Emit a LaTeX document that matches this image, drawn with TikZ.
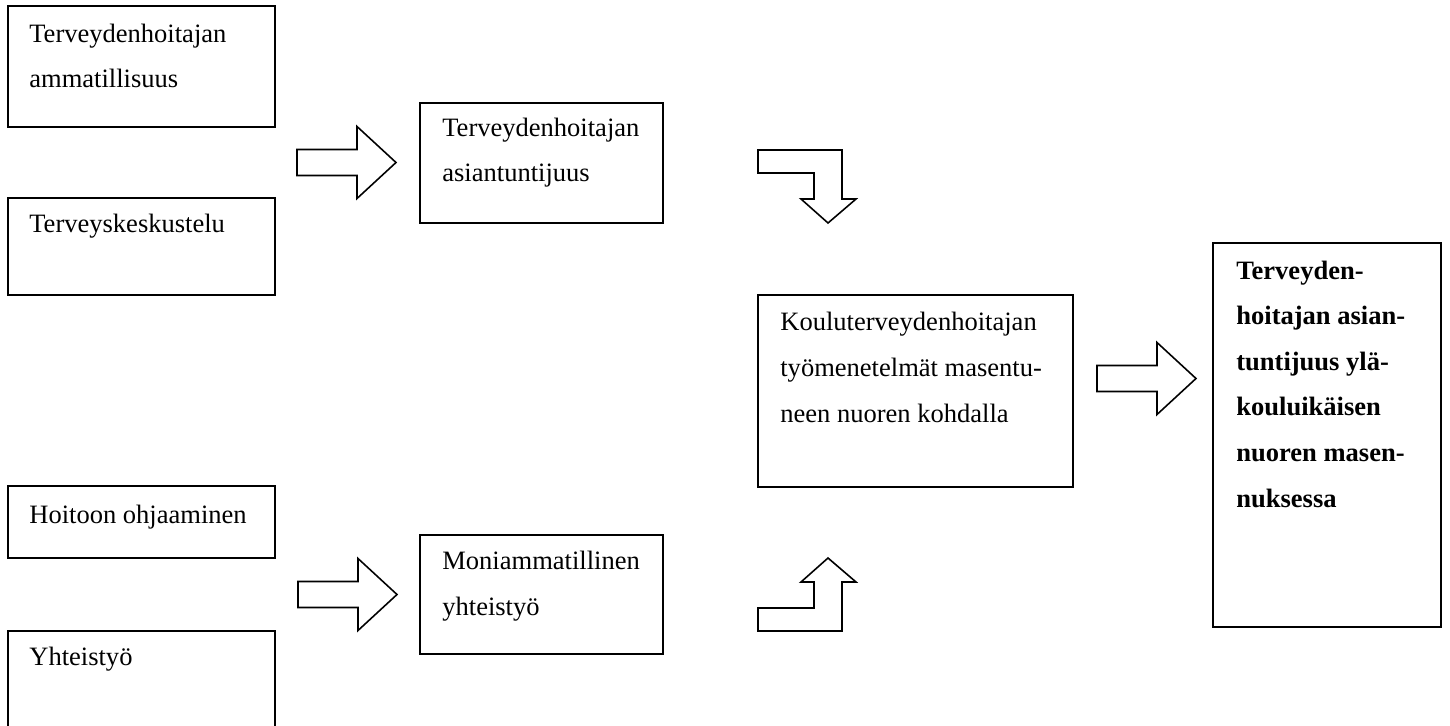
\documentclass[tikz,border=0pt]{standalone}
\usepackage{fontspec}
\setmainfont{Liberation Serif}
\usetikzlibrary{fit}
\newcommand{\pxunit}{0.02cm}
\newcommand{\boxline}{1pt}
\newcommand{\arrline}{0.9pt}
\newcommand{\txtfont}{\fontsize{15.1}{25.9}\selectfont}
\tikzset{
    box/.style = {draw, line width=\boxline, inner sep=0pt},
    % base anchor of a multi-line node = baseline of its last line
    txt/.style = {font=\txtfont, align=left, inner sep=0pt, anchor=base west},
    rblock/.pic = {\draw[line width=\arrline, line join=miter]
        (0,-13) -- (60,-13) -- (60,-36) -- (99,0) -- (60,36) -- (60,13) -- (0,13) -- cycle;},
    bblock/.pic = {\draw[line width=\arrline, line join=miter]
        (0,0) -- (84,0) -- (84,49) -- (98,49) -- (70,73) -- (43,49) -- (56,49) -- (56,23) -- (0,23) -- cycle;}
}
\begin{document}
\begin{tikzpicture}[x=\pxunit, y=-\pxunit]
        \useasboundingbox (0,0) rectangle (1450,726);
        \clip (0,0) rectangle (1450,726);
        %\draw[help lines, step=50] (0,0) grid (1450,726);

        % left column
        \node[box, fit={(8,6) (275,127)}] (ammat) {};
        \node[txt] (ammatT) at (29,88) {Terveydenhoitajan\\ammatillisuus};
        \node[box, fit={(8,198) (275,295)}] (keskus) {};
        \node[txt] (keskusT) at (29,233) {Terveyskeskustelu};
        \node[box, fit={(8,486) (275,558)}] (ohjaus) {};
        \node[txt] (ohjausT) at (29,523) {Hoitoon ohjaaminen};
        \node[box, fit={(8,631) (275,745)}] (yhteis) {};
        \node[txt] (yhteisT) at (29,665) {Yhteistyö};

        % middle column
        \node[box, fit={(420,103) (663,223)}] (asiant) {};
        \node[txt] (asiantT) at (442,182) {Terveydenhoitajan\\asiantuntijuus};
        \node[box, fit={(420,535) (663,654)}] (moniam) {};
        \node[txt] (moniamT) at (442,615) {Moniammatillinen\\yhteistyö};

        % methods and result
        \node[box, fit={(758,295) (1073,487)}] (menet) {};
        \node[txt] (menetT) at (780,422) {Kouluterveydenhoitajan\\työmenetelmät masentu-\\neen nuoren kohdalla};
        \node[box, fit={(1213,243) (1441,627)}] (tulos) {};
        \node[txt, font=\txtfont\bfseries] (tulosT) at (1236,507)
            {Terveyden-\\hoitajan asian-\\tuntijuus ylä-\\kouluikäisen\\nuoren masen-\\nuksessa};

        % block arrows
        \pic at (297,162.5) {rblock};
        \pic at (298,594.5) {rblock};
        \pic at (1097,378.5) {rblock};
        \pic at (758,150) {bblock};
        \pic[yscale=-1] at (758,631) {bblock};

    \end{tikzpicture}
\end{document}
